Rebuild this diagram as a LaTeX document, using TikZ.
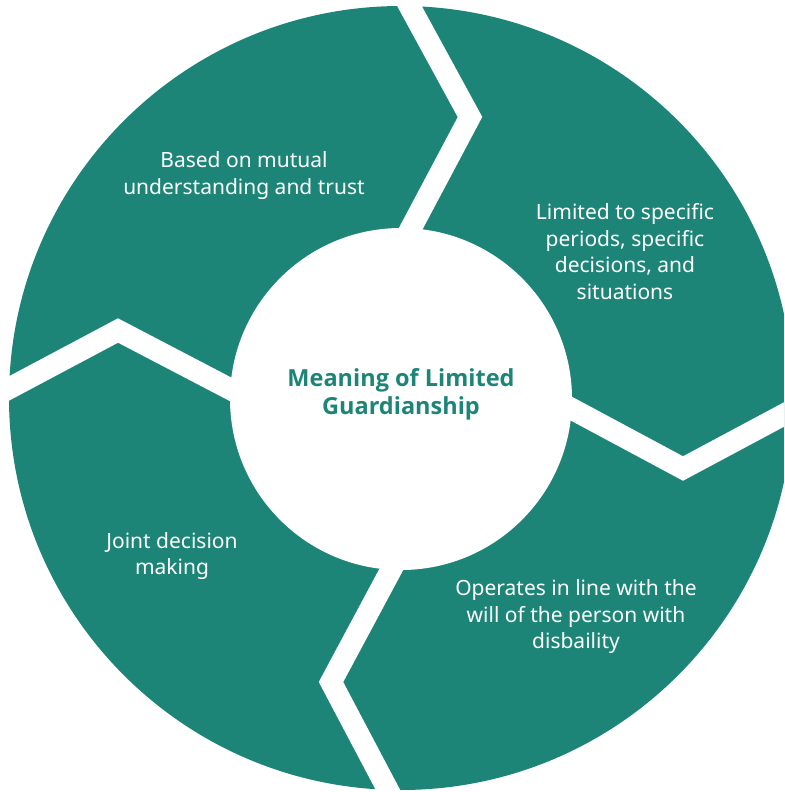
\documentclass[tikz,border=0pt]{standalone}
\usepackage{fontspec}
\setmainfont{Noto Sans}
\newfontfamily\titlefont{Open Sans}
\definecolor{guardteal}{RGB}{29,133,119}
\tikzset{
  gapline/.style={white, line width=21.6pt, line join=miter,
    shorten <=-30pt, shorten >=-30pt},
  ringtext/.style={text=white, align=center,
    font=\fontsize{21}{26.5}\selectfont},
}

\begin{document}
\begin{tikzpicture}[x=1pt,y=-1pt]
  \useasboundingbox (0,0) rectangle (784,792);
  \begin{scope}
    \clip (0,0) rectangle (784,792);
    \fill[guardteal] (401,398) circle (392);
    % white chevron gaps between the four segments
    \foreach \ax/\ay/\bx/\by/\cx/\cy in {410/230/470/117/410/7,
        572/409/683/468.5/784/414.5, 391/570/331/682/388/790,
        230/389/118/330.5/8/389}
      \draw[gapline] (\ax,\ay) -- (\bx,\by) -- (\cx,\cy);
    \fill[white] (401,399) circle (171);
  \end{scope}
  \node[ringtext] (trust) at (244,175.5) {Based on mutual\\understanding and trust};
  \node[ringtext] (limits) at (625,251.5) {Limited to specific\\periods, specific\\decisions, and\\situations};
  \node[ringtext] (will) at (576,617) {Operates in line with the\\will of the person with\\disbaility};
  \node[ringtext] (joint) at (172,556) {Joint decision\\making};
  \node[ringtext, text=guardteal, font=\titlefont\fontsize{23.5}{28}\selectfont\bfseries]
    (meaning) at (401,394) {Meaning of Limited\\Guardianship};
\end{tikzpicture}
\end{document}
